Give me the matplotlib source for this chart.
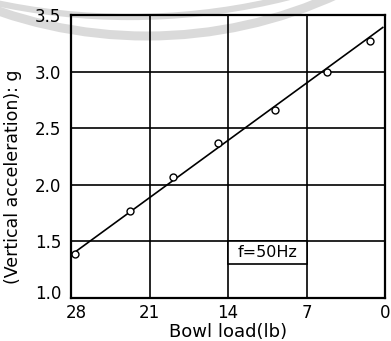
import matplotlib as mpl
import matplotlib.pyplot as plt
import numpy as np
from matplotlib.patches import Arc, Rectangle

# %% Data

load = [27.6, 22.7, 18.9, 14.9, 9.8, 5.2, 1.3]
accel = [1.39, 1.77, 2.07, 2.37, 2.66, 3.00, 3.27]

fit_load = [28.0, 0.2]
fit_accel = [1.38, 3.39]

x_ticks = [28, 21, 14, 7, 0]
y_ticks = [1.0, 1.5, 2.0, 2.5, 3.0, 3.5]
y_ticklabels = ["1.0", "1.5", "2.0", "2.5", "3.0", "3.5"]

# %% Plot

fig = plt.figure(figsize=(3.91, 3.41), dpi=100)
ax = fig.add_axes([0.1816, 0.1261, 0.8031, 0.8299])

# faint scanner arcs across the top of the page (pixel coords, y down)
px = (
    mpl.transforms.Affine2D().scale(1, -1).translate(0, 341)
    + mpl.transforms.Affine2D().scale(1 / 391, 1 / 341)
    + fig.transFigure
)
for cx, cy, r, lw in [(147, -419, 455, 6.5), (130, -630, 647, 4.5)]:
    arc = Arc(
        (cx, cy),
        2 * r,
        2 * r,
        theta1=40,
        theta2=140,
        transform=px,
        color="#dadada",
        linewidth=lw,
        zorder=0,
    )
    fig.add_artist(arc)

ax.plot(fit_load, fit_accel, c="black", linewidth=1.2, zorder=3)
ax.plot(
    load,
    accel,
    "o",
    markersize=5,
    markerfacecolor="white",
    markeredgecolor="black",
    markeredgewidth=1.0,
    zorder=4,
)

box = Rectangle(
    (14, 1.30), -7, 0.20, facecolor="white", edgecolor="black", linewidth=1.2, zorder=2
)
ax.add_patch(box)
ax.text(10.5, 1.40, "f=50Hz", ha="center", va="center", fontsize=11.5, zorder=5)

ax.set_xlim(28, 0)
ax.set_ylim(1.0, 3.5)
ax.set_xticks(x_ticks)
ax.set_yticks(y_ticks)
ax.set_yticklabels(y_ticklabels)
ax.tick_params(length=0, labelsize=12, pad=7)
ax.tick_params(axis="x", pad=4)
ax.grid(color="black", linewidth=1.2)
ax.set_axisbelow(True)
ax.patch.set_alpha(0)
for s in ax.spines.values():
    s.set_linewidth(1.6)

# the scan has "1.0" lifted and "28" nudged right
lab = ax.yaxis.get_majorticklabels()[0]
lab.set_transform(lab.get_transform() + mpl.transforms.ScaledTranslation(0, 6 / 100, fig.dpi_scale_trans))
lab = ax.xaxis.get_majorticklabels()[0]
lab.set_transform(lab.get_transform() + mpl.transforms.ScaledTranslation(5 / 100, 0, fig.dpi_scale_trans))

ax.set_xlabel("Bowl load(lb)", fontsize=13, labelpad=1)
ax.set_ylabel("(Vertical acceleration): g", fontsize=12.5)
ax.yaxis.set_label_coords(-0.155, 0.43)

fig.savefig("out.png", dpi=100)
